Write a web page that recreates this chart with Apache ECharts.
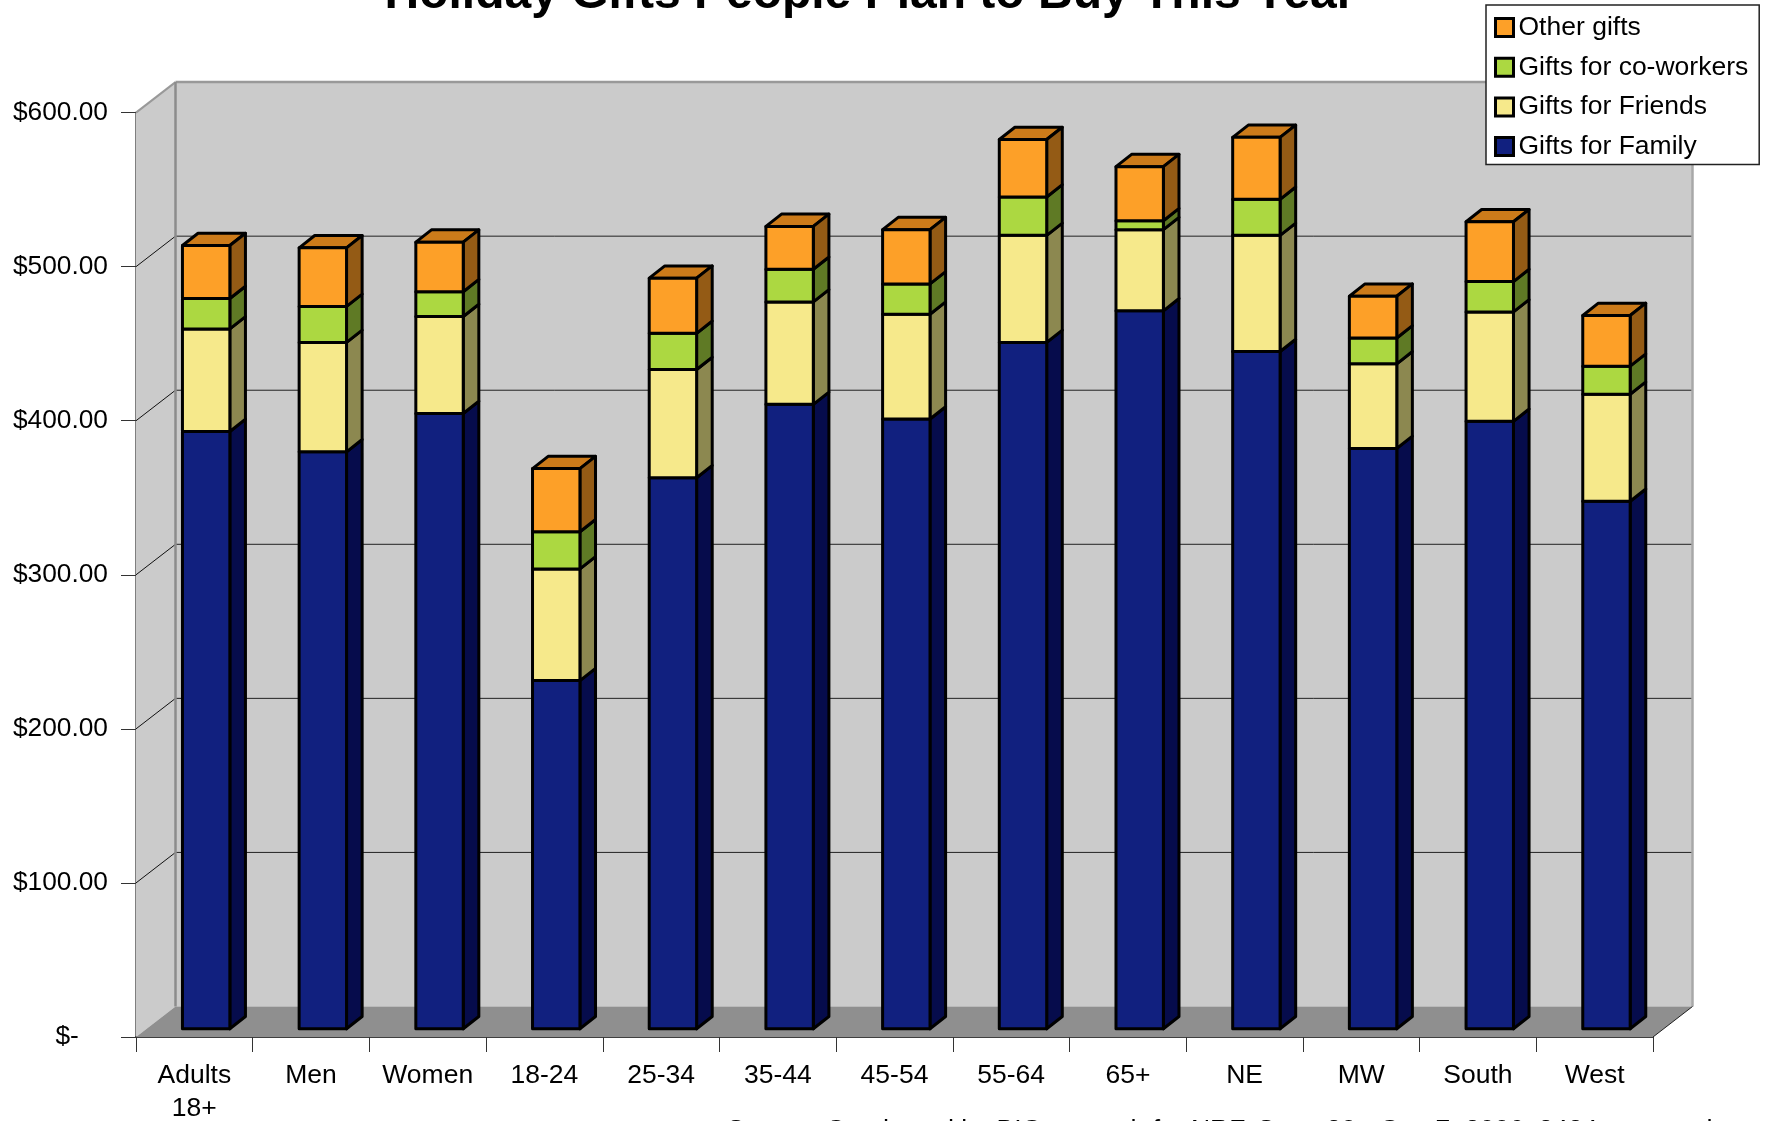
<!DOCTYPE html>
<html><head><meta charset="utf-8">
<style>html,body{margin:0;padding:0;background:#fff}#c{width:1769px;height:1121px}</style>
<script src="https://cdn.jsdelivr.net/npm/echarts@6/dist/echarts.min.js"></script>
</head><body><div id="c"></div>
<script>
const categories = ['Adults\n18+','Men','Women','18-24','25-34','35-44','45-54','55-64','65+','NE','MW','South','West'];
const family   = [387.7,374.5,399.4,226.0,357.7,405.3,395.8,445.5,466.0,439.6,376.7,394.3,342.4];
const friends  = [66.6,71.0,62.9,72.5,70.2,66.5,68.0,69.5,52.7,75.4,54.9,71.0,69.5];
const coworkers= [19.7,23.4,16.1,24.1,23.5,21.2,19.7,24.9,5.8,23.4,16.8,19.7,18.2];
const other    = [34.4,38.0,32.2,41.0,35.8,27.8,35.2,37.3,35.1,40.2,27.1,38.8,32.9];
const yTicks = [0,100,200,300,400,500,600];
const names = ['Gifts for Family','Gifts for Friends','Gifts for co-workers','Other gifts'];
const stacks = [family,friends,coworkers,other];
const titleText = 'Holiday Gifts People Plan to Buy This Year';
const sourceText = 'Source: Conducted by BIGresearch for NRF, Sept. 30 - Oct. 7, 2006, 8424 surveyed';
const palette = [
 {front:'#11207f',side:'#060c4c',top:'#0a1460'},
 {front:'#f6e98b',side:'#8c8850',top:'#b8ae68'},
 {front:'#acd841',side:'#5f7a25',top:'#80a030'},
 {front:'#fda028',side:'#945b15',top:'#cc7b1a'}
];
const DX=39.5, DY=30.5;           // depth of the 3-D box
const BAR_DX=11.8, BAR_DY=8.2;    // bar set back from the front plane
const SIDE_DX=15.6, SIDE_DY=12.3; // depth of one bar
const BAR_W=47.4;

function wallsRender(params, api){
  const w = api.size([1,0])[0];
  const x0 = api.coord([0,0])[0]-w/2, x1 = api.coord([categories.length-1,0])[0]+w/2;
  const yOf = v => api.coord([0,v])[1];
  const yb=yOf(0), yt=yOf(600);
  const ch=[];
  const poly=(pts,fill,stroke,lw)=>ch.push({type:'polygon',shape:{points:pts},style:{fill,stroke:stroke||null,lineWidth:lw||0}});
  const line=(a,b,stroke,lw)=>ch.push({type:'line',shape:{x1:a[0],y1:a[1],x2:b[0],y2:b[1]},style:{stroke,lineWidth:lw}});
  poly([[x0+DX,yt-DY],[x1+DX,yt-DY],[x1+DX,yb-DY],[x0+DX,yb-DY]],'#cbcbcb');
  poly([[x0,yt],[x0+DX,yt-DY],[x0+DX,yb-DY],[x0,yb]],'#cbcbcb');
  poly([[x0,yb],[x1,yb],[x1+DX,yb-DY],[x0+DX,yb-DY]],'#8f8f8f');
  yTicks.slice(1,-1).forEach(v=>{
    const y=yOf(v);
    line([x0+DX,y-DY],[x1+DX,y-DY],'#222',1);
    line([x0,y],[x0+DX,y-DY],'#111',1);
  });
  line([x0,yt],[x0+DX,yt-DY],'#999',2);
  line([x0+DX,yt-DY],[x1+DX,yt-DY],'#999',2.5);
  line([x0+DX,yt-DY],[x0+DX,yb-DY],'#8c8c8c',2.5);
  line([x1+DX,yt-DY],[x1+DX,yb-DY],'#a8a8a8',2.5);
  line([x1,yb],[x1+DX,yb-DY],'#222',1);
  return {type:'group',children:ch};
}
function barRender(s){
  return function(params, api){
    const i=api.value(0), lo=api.value(1), hi=api.value(2);
    const c=api.coord([i,lo]), d=api.coord([i,hi]);
    const l=c[0]+BAR_DX-BAR_W/2, r=l+BAR_W, b=c[1]-BAR_DY, t=d[1]-BAR_DY;
    const p=palette[s];
    const stroke={stroke:'#000',lineWidth:3,lineJoin:'round'};
    const ch=[
      {type:'polygon',shape:{points:[[r,t],[r+SIDE_DX,t-SIDE_DY],[r+SIDE_DX,b-SIDE_DY],[r,b]]},style:{fill:p.side,...stroke}},
      {type:'rect',shape:{x:l,y:t,width:BAR_W,height:b-t},style:{fill:p.front,...stroke}}
    ];
    if(s===stacks.length-1) ch.unshift({type:'polygon',shape:{points:[[l,t],[l+SIDE_DX,t-SIDE_DY],[r+SIDE_DX,t-SIDE_DY],[r,t]]},style:{fill:p.top,...stroke}});
    return {type:'group',children:ch};
  };
}
const running=categories.map(()=>0);
const barSeries=stacks.map((vals,s)=>{
  const data=vals.map((v,i)=>{const lo=running[i];running[i]+=v;return [i,lo,running[i]];});
  return {type:'custom',name:names[s],coordinateSystem:'cartesian2d',z:3+s,renderItem:barRender(s),
    itemStyle:{color:palette[s].front},encode:{x:0,y:[1,2]},data};
});
const font='"Liberation Sans",Arial,sans-serif';
const chart=echarts.init(document.getElementById('c'),null,{renderer:'canvas'});
chart.setOption({
  animation:false,backgroundColor:'#fff',
  title:[{text:titleText,left:865,textAlign:'center',top:-34,
    textStyle:{fontFamily:font,fontWeight:'bold',fontSize:48,color:'#000'}},
    {text:sourceText,left:722,top:1112,
    textStyle:{fontFamily:font,fontWeight:'normal',fontSize:26.5,color:'#000'}}],
  grid:{left:136,right:116,top:112.6,bottom:84,containLabel:false,outerBoundsMode:'none'},
  legend:{orient:'vertical',left:1486,top:5,padding:[9,11,4.5,8],itemWidth:18,itemHeight:18,itemGap:12.7,itemTextGap:6,
    backgroundColor:'#fff',borderColor:'#222',borderWidth:1.5,borderRadius:0,selectedMode:false,
    textStyle:{fontFamily:font,fontSize:26.5,color:'#000',lineHeight:18},
    data:[3,2,1,0].map(s=>({name:names[s],icon:'rect',itemStyle:{color:palette[s].front,borderColor:'#000',borderWidth:3}}))},
  xAxis:{type:'category',data:categories,boundaryGap:true,
    axisLine:{lineStyle:{color:'#000',width:1.5}},
    axisTick:{show:true,length:15,alignWithLabel:false,lineStyle:{color:'#333',width:1}},
    axisLabel:{interval:0,margin:22,fontFamily:font,fontSize:26.5,color:'#000',lineHeight:33,hideOverlap:false},
    splitLine:{show:false}},
  yAxis:{type:'value',min:0,max:600,interval:100,
    axisLine:{show:true,lineStyle:{color:'#555',width:1.5}},
    axisTick:{show:true,length:15,lineStyle:{color:'#333',width:1}},
    axisLabel:{margin:28,fontFamily:font,fontSize:26.3,color:'#000',padding:[2,0,0,0],
      formatter:v=>v===0?'$-    ':'$'+v.toFixed(2)},
    splitLine:{show:false}},
  series:[{type:'custom',name:'walls',coordinateSystem:'cartesian2d',z:1,silent:true,renderItem:wallsRender,data:[[0,0]],encode:{x:0,y:1}},...barSeries]
});
</script></body></html>
